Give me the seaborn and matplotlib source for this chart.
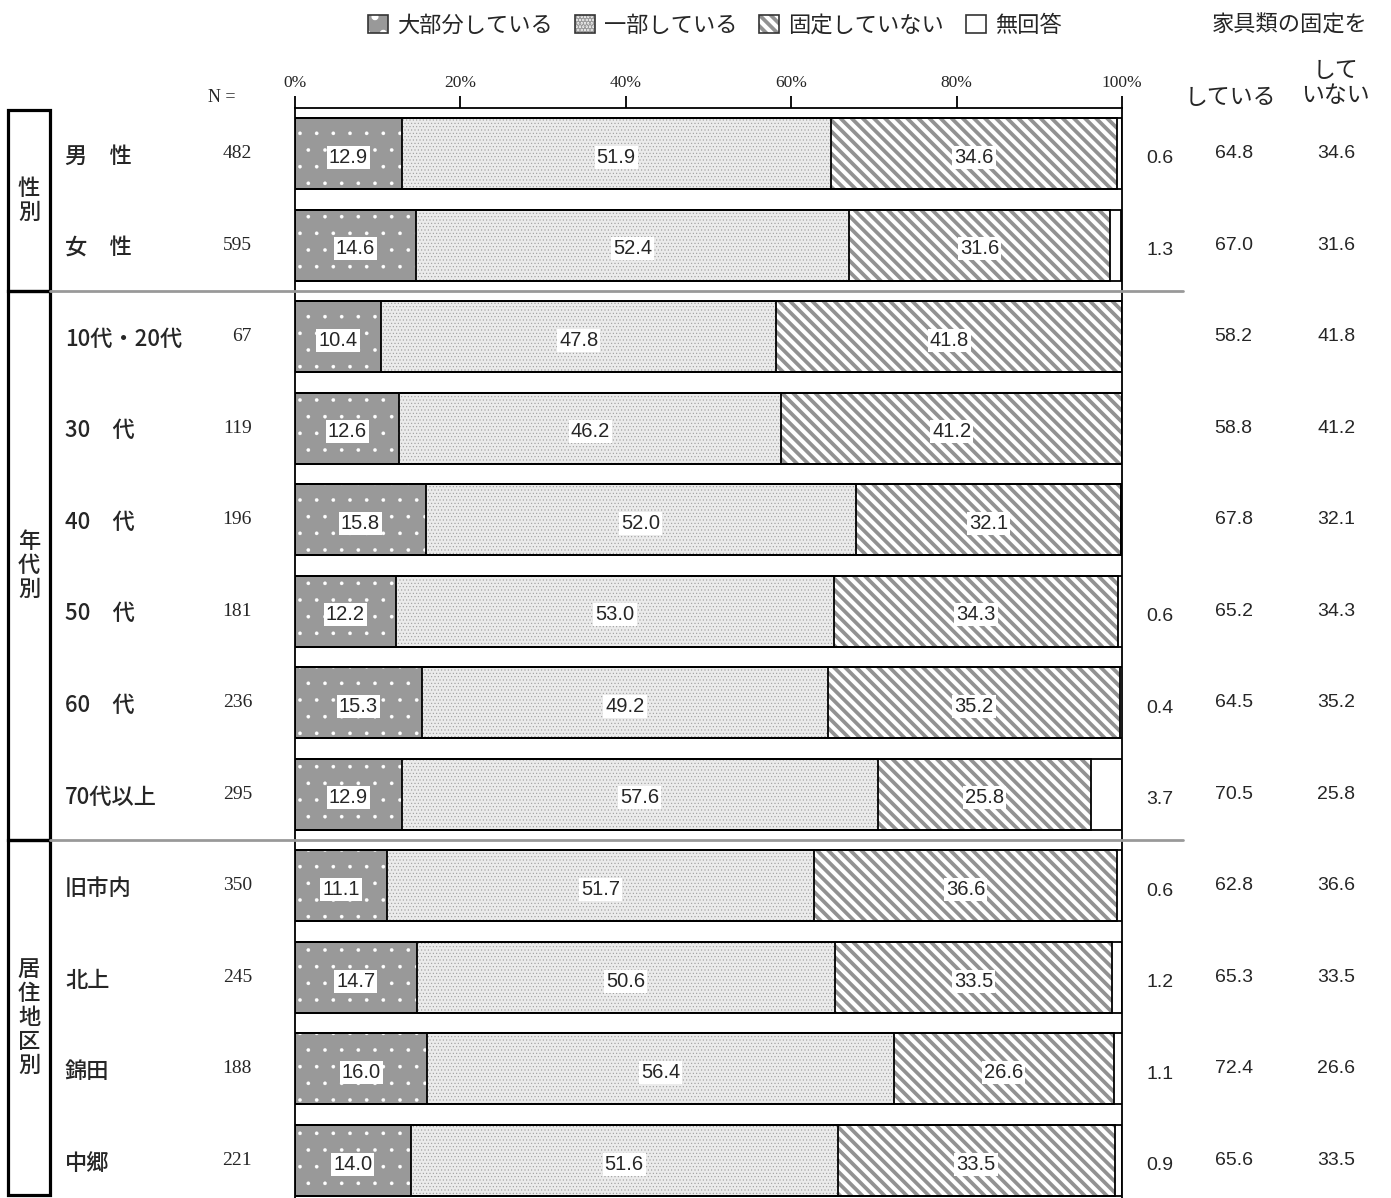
import numpy as np
import pandas as pd
import matplotlib.pyplot as plt
import matplotlib.transforms as mtransforms
from matplotlib.patches import Rectangle, Patch
from matplotlib.lines import Line2D
import seaborn as sns

# データ
labels = ['男　性', '女　性', '10代・20代', '30　代', '40　代', '50　代',
          '60　代', '70代以上', '旧市内', '北上', '錦田', '中郷']
n_values = [482, 595, 67, 119, 196, 181, 236, 295, 350, 245, 188, 221]
most = [12.9, 14.6, 10.4, 12.6, 15.8, 12.2, 15.3, 12.9, 11.1, 14.7, 16.0, 14.0]
partly = [51.9, 52.4, 47.8, 46.2, 52.0, 53.0, 49.2, 57.6, 51.7, 50.6, 56.4, 51.6]
not_fixed = [34.6, 31.6, 41.8, 41.2, 32.1, 34.3, 35.2, 25.8, 36.6, 33.5, 26.6, 33.5]
no_answer = [0.6, 1.3, None, None, None, 0.6, 0.4, 3.7, 0.6, 1.2, 1.1, 0.9]
fixed_total = [64.8, 67.0, 58.2, 58.8, 67.8, 65.2, 64.5, 70.5, 62.8, 65.3, 72.4, 65.6]
notfixed_total = [34.6, 31.6, 41.8, 41.2, 32.1, 34.3, 35.2, 25.8, 36.6, 33.5, 26.6, 33.5]
legend_labels = ['大部分している', '一部している', '固定していない', '無回答']
groups = [('性\n別', 0, 1), ('年\n代\n別', 2, 7), ('居\n住\n地\n区\n別', 8, 11)]

sns.set_theme(style='white')
plt.rcParams['font.family'] = ['Noto Sans CJK JP', 'DejaVu Sans']
plt.rcParams['hatch.linewidth'] = 2.7

df = pd.DataFrame({'label': labels, 'most': most, 'partly': partly,
                   'not_fixed': not_fixed, 'no_answer': no_answer})
df['no_answer'] = df['no_answer'].fillna(0)
df['c1'] = df['most']
df['c2'] = df['c1'] + df['partly']
df['c3'] = df['c2'] + df['not_fixed']
df['c4'] = df['c3'] + df['no_answer']

W, H = 1391, 1198
fig = plt.figure(figsize=(W / 100, H / 100), dpi=100)
ax = fig.add_axes([295 / W, 0, 827 / W, 1090 / H])

# (列, 塗り, ハッチ色, ハッチ, ハッチ線幅)
styles = [
    ('c4', 'white', 'white', '', 1.0),
    ('c3', 'white', '#929292', '\\\\\\', 2.7),
    ('c2', '#ebebeb', '#9c9c9c', '.....', 0.4),
    ('c1', '#999999', 'white', '.', 0.2),
]
for col, fc, hc, hatch, hlw in styles:
    n0 = len(ax.patches)
    sns.barplot(data=df, x=col, y='label', orient='h', color=fc, saturation=1,
                edgecolor=hc, linewidth=0, width=0.776, errorbar=None, ax=ax)
    for p in ax.patches[n0:]:
        p.set_facecolor(fc)
        p.set_edgecolor(hc)
        p.set_hatch(hatch)
        if hasattr(p, 'set_hatch_linewidth'):
            p.set_hatch_linewidth(hlw)

# 枠線
for p in list(ax.patches):
    ax.add_patch(Rectangle(p.get_xy(), p.get_width(), p.get_height(),
                           fill=False, ec='black', lw=1.3, zorder=3))

# バー内の数値
for i in range(len(labels)):
    left = 0
    for v in [most[i], partly[i], not_fixed[i]]:
        ax.text(left + v / 2, i + 0.04, f'{v:.1f}', ha='center', va='center',
                fontsize=14.5, family='Liberation Sans', zorder=4,
                bbox=dict(boxstyle='square,pad=0.1', fc='white', ec='none'))
        left += v
    if no_answer[i] is not None:
        ax.text(104.6, i + 0.06, f'{no_answer[i]:.1f}', ha='center', va='center',
                fontsize=14, family='Liberation Sans', clip_on=False)
    ax.text(113.5, i, f'{fixed_total[i]:.1f}', ha='center', va='center',
            fontsize=14, family='Liberation Sans', clip_on=False)
    ax.text(125.9, i, f'{notfixed_total[i]:.1f}', ha='center', va='center',
            fontsize=14, family='Liberation Sans', clip_on=False)

ax.set_xlim(0, 100)
ax.set_ylim(11.41, -0.497)
ax.set_xlabel('')
ax.set_ylabel('')
ax.set_yticks([])
ax.xaxis.tick_top()
ax.set_xticks(np.arange(0, 101, 20))
ax.set_xticklabels([f'{v}%' for v in range(0, 101, 20)],
                   fontfamily='Liberation Serif', fontsize=12.5)
ax.tick_params(axis='x', direction='out', length=9, width=1.3, color='black', pad=3)
for s in ['top', 'left', 'right']:
    ax.spines[s].set_color('black')
    ax.spines[s].set_linewidth(1.3)
ax.spines['bottom'].set_visible(False)

trans = mtransforms.blended_transform_factory(fig.transFigure, ax.transData)

# 行ラベルとN
for i, (lab, n) in enumerate(zip(labels, n_values)):
    fig.text(65 / W, i + 0.03, lab, transform=trans, ha='left', va='center',
             fontsize=16, fontweight='medium')
    fig.text(252 / W, i, str(n), transform=trans, ha='right', va='center',
             fontsize=14, family='Liberation Serif')
fig.text(222 / W, 1 - 98 / H, 'N =', ha='center', va='center',
         fontsize=13, family='Liberation Serif')

# グループ枠
for name, a, b in groups:
    y0 = -0.475 if a == 0 else a - 0.5
    y1 = 11.38 if b == len(labels) - 1 else b + 0.5
    fig.add_artist(Rectangle((8 / W, y0), 42 / W, y1 - y0, transform=trans,
                             fill=False, ec='black', lw=2.3))
    fig.text(29 / W, (y0 + y1) / 2, name, transform=trans, ha='center',
             va='center', fontsize=16, linespacing=1.05, fontweight='medium')
    if b < len(labels) - 1:
        fig.add_artist(Line2D([50 / W, 1183 / W], [b + 0.5, b + 0.5],
                              transform=trans, color='#999999', lw=2))

# 右側の見出し
fig.text(1290 / W, 1 - 25 / H, '家具類の固定を', ha='center', va='center', fontsize=16)
fig.text(1230 / W, 1 - 97 / H, 'している', ha='center', va='center', fontsize=16.5)
fig.text(1335 / W, 1 - 83 / H, 'して\nいない', ha='center', va='center',
         fontsize=16.5, linespacing=1.15)

# 凡例
handles = []
for col, fc, hc, hatch, hlw in [styles[3], styles[2], styles[1], styles[0]]:
    hp = Patch(facecolor=fc, edgecolor=hc, hatch=hatch, lw=0)
    op = Patch(fill=False, edgecolor='#333333', lw=1.2)
    handles.append((hp, op))
fig.legend(handles, legend_labels, loc='center', bbox_to_anchor=(715 / W, 1 - 25 / H),
           ncol=4, frameon=False, fontsize=16, handlelength=0.9, handleheight=0.9,
           columnspacing=1.0, handletextpad=0.4)

fig.savefig('out.png', dpi=100)
